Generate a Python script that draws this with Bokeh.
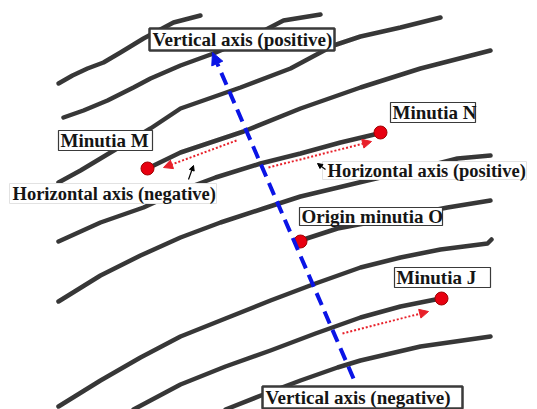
from bokeh.plotting import figure
from bokeh.models import Range1d, Arrow, NormalHead, ColumnDataSource
from bokeh.core.properties import value
from bokeh.embed import file_html
from bokeh.resources import INLINE

# ---- ridge polylines (image pixel coordinates) ----
ridge_xs = [
    [58, 72, 87, 103, 120, 143, 173, 200],
    [63, 83, 107, 133, 150, 180, 213, 250, 283, 320],
    [58, 80, 110, 150, 180, 240, 290, 333, 360, 400, 440],
    [147, 180, 243, 300, 360, 420, 490],
    [58, 100, 143, 180, 215, 260, 300, 340, 378],
    [58, 100, 140, 180, 220, 263, 300, 367, 410, 457, 490],
    [300, 337, 390, 447, 490],
    [58, 100, 140, 180, 225, 270, 315, 360, 400, 440, 487, 491],
    [133, 180, 225, 270, 315, 360, 400, 440],
    [225, 263, 300, 337, 360, 420, 490],
]
ridge_ys = [
    [83, 75, 68, 62, 52, 38, 22, 15],
    [117, 110, 100, 87, 78, 65, 53, 37, 20, 14],
    [182, 170, 152, 128, 108, 87, 68, 45, 36, 27, 17],
    [168, 152, 131, 108, 87, 68, 50],
    [241, 222, 207, 190, 177, 163, 153, 142, 133],
    [301, 275, 255, 237, 222, 208, 196, 180, 170, 158, 155],
    [240, 228, 218, 207, 200],
    [406, 380, 357, 336, 318, 300, 283, 267, 257, 249, 243, 239],
    [409, 384, 366, 350, 333, 317, 306, 298],
    [409, 394, 380, 367, 360, 346, 336],
]

# ---- minutiae ----
minutia_names = ["M", "N", "O", "J"]
minutia_x = [147, 380, 300, 441]
minutia_y = [168, 132, 241, 298]

# ---- axis arrows ----
vaxis_start = (353, 378)
vaxis_end = (212, 52)
red_start_x = [236, 268, 342]
red_start_y = [140, 167, 333]
red_end_x = [163, 371, 428]
red_end_y = [167, 141, 311]
ptr_start_x = [188, 325]
ptr_start_y = [179, 169]
ptr_end_x = [193, 317]
ptr_end_y = [165, 163]

# ---- labels ----
label_text = ["Vertical axis (positive)", "Minutia M", "Minutia N",
              "Origin minutia O", "Minutia J", "Vertical axis (negative)"]
label_x = [152, 60, 392, 301, 396, 265]
label_y = [39, 140, 112, 216, 277, 397]
box_l = [149, 58, 390, 299, 394, 262]
box_r = [334, 152, 475, 442, 490, 462]
box_t = [28, 130, 102, 207, 267, 386]
box_b = [50, 150, 122, 225, 287, 408]
box_w = [2.5, 1.2, 1.2, 1.2, 1.2, 2.5]

free_text = ["Horizontal axis (negative)", "Horizontal axis (positive)"]
free_x = [12, 327]
free_y = [193, 170]
free_l = [9, 322]
free_r = [216, 526]
free_t = [183, 161]
free_b = [203, 179]

p = figure(width=537, height=409, output_backend="svg", toolbar_location=None,
           x_range=Range1d(0, 537), y_range=Range1d(409, 0), min_border=0)
p.axis.visible = False
p.grid.visible = False
p.outline_line_color = None
p.background_fill_color = "white"

p.multi_line(ridge_xs, ridge_ys, line_color="#262626", line_width=4.5,
             line_alpha=0.92, line_cap="round", line_join="round")

# faint boxes behind horizontal-axis texts
p.quad(left=free_l, right=free_r, top=free_t, bottom=free_b,
       fill_color="white", line_color="#e2e2e2", line_width=1)

# blue vertical axis
p.add_layout(Arrow(end=NormalHead(size=12, fill_color="#0a14e6", line_color="#0a14e6"),
                   x_start=vaxis_start[0], y_start=vaxis_start[1],
                   x_end=vaxis_end[0], y_end=vaxis_end[1],
                   line_color="#0a14e6", line_width=4, line_dash="13 7"))

# red dotted arrows
for xs, ys, xe, ye in zip(red_start_x, red_start_y, red_end_x, red_end_y):
    p.add_layout(Arrow(end=NormalHead(size=9, fill_color="#e8202a", line_color="#e8202a"),
                       x_start=xs, y_start=ys, x_end=xe, y_end=ye,
                       line_color="#e8202a", line_width=2, line_dash="2 2"))

# small black pointers
for xs, ys, xe, ye in zip(ptr_start_x, ptr_start_y, ptr_end_x, ptr_end_y):
    p.add_layout(Arrow(end=NormalHead(size=5, fill_color="black", line_color="black"),
                       x_start=xs, y_start=ys, x_end=xe, y_end=ye,
                       line_color="black", line_width=1.2))

# minutiae dots
p.scatter(minutia_x, minutia_y, size=13, fill_color="#e80010", line_color="#a00000",
          line_width=1)

# labelled boxes
src = ColumnDataSource(dict(l=box_l, r=box_r, t=box_t, b=box_b, w=box_w))
p.quad(left="l", right="r", top="t", bottom="b", source=src,
       fill_color="white", line_color="#3a3a3a", line_width="w")

p.text(label_x, label_y, text=label_text, text_font=value("Liberation Serif"),
       text_font_style="bold", text_font_size="19px", text_baseline="middle",
       text_align="left", text_color="#151515")
p.text(free_x, free_y, text=free_text, text_font=value("Liberation Serif"),
       text_font_style="bold", text_font_size="18.5px", text_baseline="middle",
       text_align="left", text_color="#151515")

open("out.html", "w").write(file_html(p, INLINE))
